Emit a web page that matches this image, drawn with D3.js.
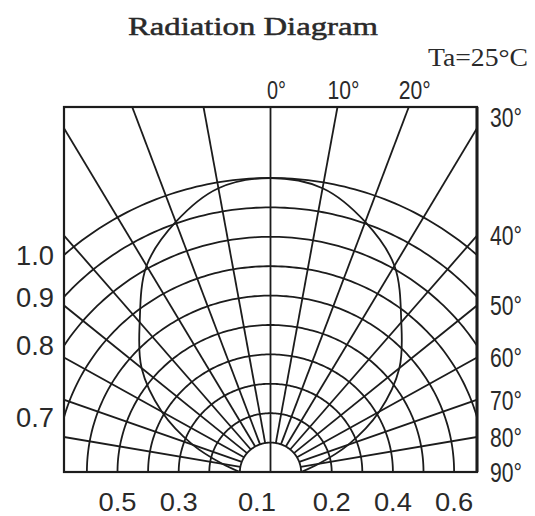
<!DOCTYPE html>
<html>
<head>
<meta charset="utf-8">
<script src="https://cdn.jsdelivr.net/npm/d3@7"></script>
<style>
  html, body { margin: 0; padding: 0; background: #fff; }
  svg { display: block; }
</style>
</head>
<body>
<script>
// ---------- data ----------
const titleText = "Radiation Diagram";
const conditionText = "Ta=25°C";
const arcValues = [0.1, 0.2, 0.3, 0.4, 0.5, 0.6, 0.7, 0.8, 0.9, 1.0];
const spokeAngles = [-90, -80, -70, -60, -50, -40, -30, -20, -10, 0, 10, 20, 30, 40, 50, 60, 70, 80, 90];
const patternAngles = [-90, -80, -70, -60, -50, -40, -30, -20, -10, 0, 10, 20, 30, 40, 50, 60, 70, 80, 90];
const patternValues = [0.10, 0.16, 0.27, 0.41, 0.55, 0.665, 0.81, 0.905, 0.98, 1.0, 0.98, 0.905, 0.81, 0.665, 0.55, 0.41, 0.27, 0.16, 0.10];
const leftLabelValues = [1.0, 0.9, 0.8, 0.7];
const leftLabelText = ["1.0", "0.9", "0.8", "0.7"];
const bottomLabelValues = [-0.5, -0.3, -0.1, 0.2, 0.4, 0.6];
const bottomLabelText = ["0.5", "0.3", "0.1", "0.2", "0.4", "0.6"];
const topLabelAngles = [0, 10, 20];
const rightLabelAngles = [30, 40, 50, 60, 70, 80, 90];

// ---------- layout ----------
const W = 535, H = 516;
const box = { x0: 64, x1: 477, y0: 107, y1: 472 };
const cx = 270.5, cy = 472;
const rX = d3.scaleLinear().domain([0, 1]).range([0, 306]);
const rY = d3.scaleLinear().domain([0, 1]).range([0, 294]);
const rad = d3.scaleLinear().domain([0, 180]).range([0, Math.PI]);
const px = (v, a) => cx + rX(v) * Math.sin(rad(a));
const py = (v, a) => cy - rY(v) * Math.cos(rad(a));

const ink = "#1c1c1c";
const textInk = "#2a2a2a";
const numFont = "'Liberation Sans', Arial, sans-serif";
const serifFont = "'Liberation Serif', 'Times New Roman', serif";

const svg = d3.select("body").append("svg").attr("width", W).attr("height", H);
svg.append("rect").attr("width", W).attr("height", H).attr("fill", "#fff");

svg.append("clipPath").attr("id", "boxclip")
  .append("rect").attr("x", box.x0).attr("y", box.y0)
  .attr("width", box.x1 - box.x0).attr("height", box.y1 - box.y0);

const grid = svg.append("g").attr("clip-path", "url(#boxclip)")
  .attr("fill", "none").attr("stroke", ink).attr("stroke-width", 1.8);

// concentric arcs
const arcSteps = d3.range(-90, 90.5, 1);
const arcLine = d3.line().x(d => d[0]).y(d => d[1]);
grid.selectAll("path.arc").data(arcValues).join("path")
  .attr("class", "arc")
  .attr("d", v => arcLine(arcSteps.map(a => [px(v, a), py(v, a)])));

// spokes
grid.selectAll("line.spoke").data(spokeAngles).join("line")
  .attr("class", "spoke")
  .attr("x1", a => px(a === 0 ? 0 : arcValues[0], a))
  .attr("y1", a => py(a === 0 ? 0 : arcValues[0], a))
  .attr("x2", a => px(3, a))
  .attr("y2", a => py(3, a));

// radiation pattern
const patternLine = d3.line()
  .x((d, i) => px(d, patternAngles[i]))
  .y((d, i) => py(d, patternAngles[i]))
  .curve(d3.curveCatmullRom.alpha(0.5));
grid.append("path").attr("d", patternLine(patternValues));

// frame
svg.append("rect").attr("x", box.x0).attr("y", box.y0)
  .attr("width", box.x1 - box.x0).attr("height", box.y1 - box.y0)
  .attr("fill", "none").attr("stroke", ink).attr("stroke-width", 2.2);
svg.append("line").attr("x1", box.x1).attr("x2", box.x1).attr("y1", box.y0).attr("y2", box.y1)
  .attr("stroke", ink).attr("stroke-width", 3);

// ---------- text ----------
const numWidth = t => t.includes("°") ? 13 * (t.length - 1) + 6 : 38;

function label(x, y, t, anchor, fs) {
  svg.append("text").attr("x", x).attr("y", y + fs * 0.36).text(t)
    .attr("font-family", numFont).attr("font-size", fs)
    .attr("fill", textInk).attr("text-anchor", anchor)
    .attr("textLength", numWidth(t)).attr("lengthAdjust", "spacingAndGlyphs");
}

// left labels at arc / left-edge crossings
leftLabelValues.forEach((v, i) => {
  const s = (cx - box.x0) / rX(v);
  const y = cy - rY(v) * Math.cos(Math.asin(Math.min(1, s)));
  label(box.x0 - 10, y, leftLabelText[i], "end", 27);
});

// bottom labels at arc / baseline crossings
const minAbs = d3.min(bottomLabelValues, v => Math.abs(v));
bottomLabelValues.forEach((v, i) => {
  const x = cx + Math.sign(v) * rX(Math.abs(v)) + (Math.abs(v) === minAbs ? 17 : 0);
  label(x, 501.5, bottomLabelText[i], "middle", 25);
});

// top labels at spoke / top-edge crossings
topLabelAngles.forEach(a => {
  const r = (cy - box.y0) / (rY(1) * Math.cos(rad(a)));
  const x = cx + r * rX(1) * Math.sin(rad(a));
  label(x + 6, 89.5, a + "°", "middle", 26);
});

// right labels at spoke / right-edge crossings (first one kept near the top corner)
rightLabelAngles.forEach((a, i) => {
  let y;
  if (a >= 90) y = cy;
  else {
    const r = (box.x1 - cx) / (rX(1) * Math.sin(rad(a)));
    y = cy - r * rY(1) * Math.cos(rad(a));
  }
  if (i === 0) y = Math.min(y, box.y0 + 10);
  label(box.x1 + 13, y, a + "°", "start", 27);
});

// title and condition
svg.append("text").attr("x", 128).attr("y", 35).text(titleText)
  .attr("font-family", serifFont).attr("font-size", 26).attr("fill", textInk)
  .attr("stroke", textInk).attr("stroke-width", 0.5)
  .attr("textLength", 250).attr("lengthAdjust", "spacingAndGlyphs");
svg.append("text").attr("x", 428).attr("y", 66).text(conditionText)
  .attr("font-family", serifFont).attr("font-size", 25).attr("fill", textInk)
  .attr("textLength", 100).attr("lengthAdjust", "spacingAndGlyphs");
</script>
</body>
</html>
